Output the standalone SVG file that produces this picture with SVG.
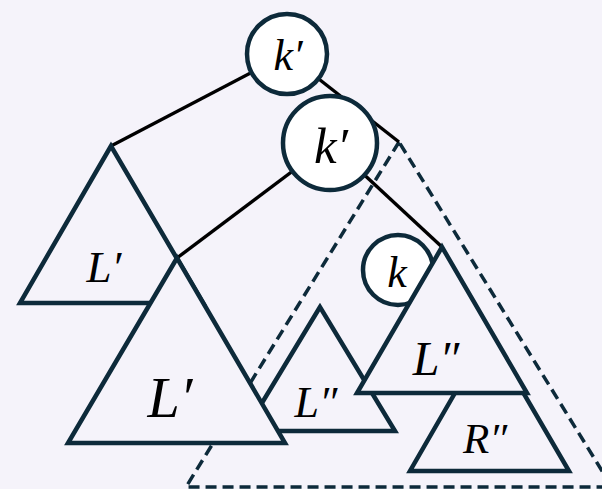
<svg xmlns="http://www.w3.org/2000/svg" width="602" height="489" viewBox="0 0 602 489">
<style>
.bg{fill:#f5f3fa}
.tri{fill:#f5f3fa;stroke:#0d2a3a;stroke-width:4.5;stroke-linejoin:miter}
.dash{fill:none;stroke:#0d2a3a;stroke-width:3.5;stroke-dasharray:11 6}
.node{fill:#ffffff;stroke:#0d2a3a;stroke-width:4.5}
.edge{stroke:#000;stroke-width:3.4;fill:none}
text{font-family:"Liberation Serif","Times New Roman",serif;font-style:italic;fill:#000;text-anchor:middle}
</style>
<rect class="bg" x="0" y="0" width="602" height="489"/>
<g id="subtree-box">
<polygon class="dash" points="399,142 186,487 612,487"/>
</g>
<g id="connectors">
<line class="edge" x1="287" y1="54" x2="111" y2="146"/>
<line class="edge" x1="287" y1="54" x2="399" y2="142"/>
<line class="edge" x1="330" y1="143" x2="177" y2="258"/>
<line class="edge" x1="330" y1="143" x2="442" y2="247"/>
</g>
<g id="tri-L1">
<polygon class="tri" points="111,146 20,303 203,303"/>
<text x="104" y="282" font-size="45">L′</text>
</g>
<g id="tri-L2-left">
<polygon class="tri" points="320,307 245,431 395,431"/>
<text x="316" y="417" font-size="44">L″</text>
</g>
<g id="tri-L1-big">
<polygon class="tri" points="177,258 68,443 285,443"/>
<text x="170" y="417" font-size="58">L′</text>
</g>
<g id="tri-R2">
<polygon class="tri" points="489,334 410,471 569,471"/>
<text x="485" y="453" font-size="43">R″</text>
</g>
<g id="node-k">
<circle class="node" cx="398" cy="270" r="35"/>
<text x="397" y="287" font-size="44">k</text>
</g>
<g id="tri-L2-right">
<polygon class="tri" points="442,247 357,393 527,393"/>
<text x="436" y="375" font-size="48">L″</text>
</g>
<g id="node-k1-top">
<circle class="node" cx="287" cy="54" r="40"/>
<text x="288" y="70" font-size="44">k′</text>
</g>
<g id="node-k1">
<circle class="node" cx="330" cy="143" r="47"/>
<text x="331" y="163" font-size="51">k′</text>
</g>
</svg>
